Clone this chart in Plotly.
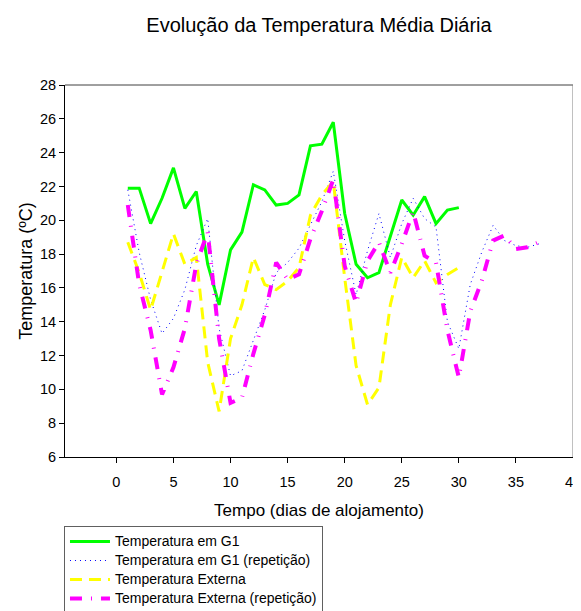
import plotly.graph_objects as go

# ---- data ----
days_g1 = list(range(1, 31))
temp_g1 = [21.9, 21.9, 19.8, 21.3, 23.1, 20.7, 21.7, 17.4, 15.0, 18.25,
           19.3, 22.1, 21.8, 20.9, 21.0, 21.5, 24.4, 24.5, 25.8, 20.4,
           17.4, 16.6, 16.9, 19.0, 21.2, 20.3, 21.4, 19.8, 20.6, 20.75]

days_g1_rep = list(range(1, 38))
temp_g1_rep = [21.8, 18.1, 15.3, 13.3, 14.2, 15.9, 18.5, 20.1, 13.6, 10.8,
               11.1, 12.9, 14.7, 16.9, 17.5, 18.35, 19.7, 21.1, 22.9, 18.8,
               15.6, 18.2, 20.4, 17.8, 19.8, 21.3, 20.1, 19.6, 14.0, 12.4,
               16.2, 18.1, 19.7, 18.8, 18.5, 18.4, 18.6]

days_ext = list(range(1, 31))
temp_ext = [18.7, 16.9, 14.7, 17.0, 19.2, 17.4, 17.8, 11.6, 8.7, 13.0,
            15.0, 17.8, 16.2, 15.9, 16.4, 17.2, 20.3, 21.5, 22.3, 16.6,
            11.4, 9.1, 10.1, 15.0, 17.8, 16.6, 17.6, 16.3, 16.8, 17.2]

days_ext_rep = list(range(1, 38))
temp_ext_rep = [20.9, 16.2, 13.5, 9.7, 11.3, 13.6, 17.4, 19.3, 13.0, 9.2,
                9.5, 12.1, 14.4, 17.5, 16.5, 16.8, 18.9, 20.55, 22.4, 17.3,
                15.1, 17.6, 18.7, 16.9, 18.6, 20.5, 17.9, 17.5, 13.5, 10.7,
                14.6, 16.4, 18.8, 19.1, 18.3, 18.4, 18.7]

series_names = ["Temperatura em G1", "Temperatura em G1 (repetição)",
                "Temperatura Externa", "Temperatura Externa (repetição)"]

x_ticks = [0, 5, 10, 15, 20, 25, 30, 35, 40]
y_ticks = [6, 8, 10, 12, 14, 16, 18, 20, 22, 24, 26, 28]

FONT = "Liberation Sans, Arial, sans-serif"
# the page body keeps its default 8px margin, so the figure is 8px smaller
W, H = 573, 603
PLOT_H = 603 - 77 - 154


def legend_label(s):
    # legend rows keep a compact pitch while the label is drawn at 14px
    return "<span style='font-size:14px'>" + s + "</span>"


fig = go.Figure()
fig.add_trace(go.Scatter(x=days_g1, y=temp_g1, mode="lines",
                         name=legend_label(series_names[0]),
                         line=dict(color="#00ff00", width=3)))
fig.add_trace(go.Scatter(x=days_g1_rep, y=temp_g1_rep, mode="lines",
                         name=legend_label(series_names[1]),
                         line=dict(color="#0000ff", width=1, dash="1px,4px")))
fig.add_trace(go.Scatter(x=days_ext, y=temp_ext, mode="lines",
                         name=legend_label(series_names[2]),
                         line=dict(color="#ffff00", width=3, dash="12px,7px")))
fig.add_trace(go.Scatter(x=days_ext_rep, y=temp_ext_rep, mode="lines",
                         name=legend_label(series_names[3]),
                         line=dict(color="#ff00ff", width=4, dash="12px,9px,1px,9px")))

fig.update_layout(
    width=W, height=H, autosize=False,
    margin=dict(l=57, r=8, t=77, b=154, autoexpand=False),
    paper_bgcolor="white", plot_bgcolor="white",
    font=dict(family=FONT, color="black"),
    title=dict(text="Evolução da Temperatura Média Diária",
               x=311 / W, xref="container", xanchor="center",
               y=1 - 17 / H, yref="container", yanchor="middle",
               font=dict(size=20, family=FONT, color="black")),
    xaxis=dict(range=[-4.5, 40], tickvals=x_ticks, ticks="outside", ticklen=5,
               tickcolor="black", showline=True, linecolor="black", linewidth=1,
               showgrid=False, zeroline=False, tickfont=dict(size=14.5),
               ticklabeloverflow="allow", ticklabelstandoff=7,
               title=dict(text="Tempo (dias de alojamento)", font=dict(size=17),
                          standoff=14)),
    yaxis=dict(range=[6, 28], tickvals=y_ticks, ticks="outside", ticklen=5,
               tickcolor="black", showline=True, linecolor="black", linewidth=1,
               showgrid=False, zeroline=False, tickfont=dict(size=14.5),
               title=dict(text="Temperatura (ºC)", font=dict(size=18),
                          standoff=2)),
    legend=dict(x=-0.002, y=-69 / PLOT_H, xanchor="left", yanchor="top",
                bordercolor="#606060", borderwidth=1, bgcolor="white",
                font=dict(size=11.5, family=FONT), itemwidth=40,
                tracegroupgap=0),
    showlegend=True,
    shapes=[
        dict(type="line", xref="paper", yref="paper", x0=0, x1=1, y0=1, y1=1,
             line=dict(color="#404040", width=1)),
        dict(type="line", xref="paper", yref="paper", x0=1, x1=1, y0=0, y1=1,
             line=dict(color="#808080", width=1)),
    ],
)

fig.write_html("out.html", config={"displayModeBar": False})
